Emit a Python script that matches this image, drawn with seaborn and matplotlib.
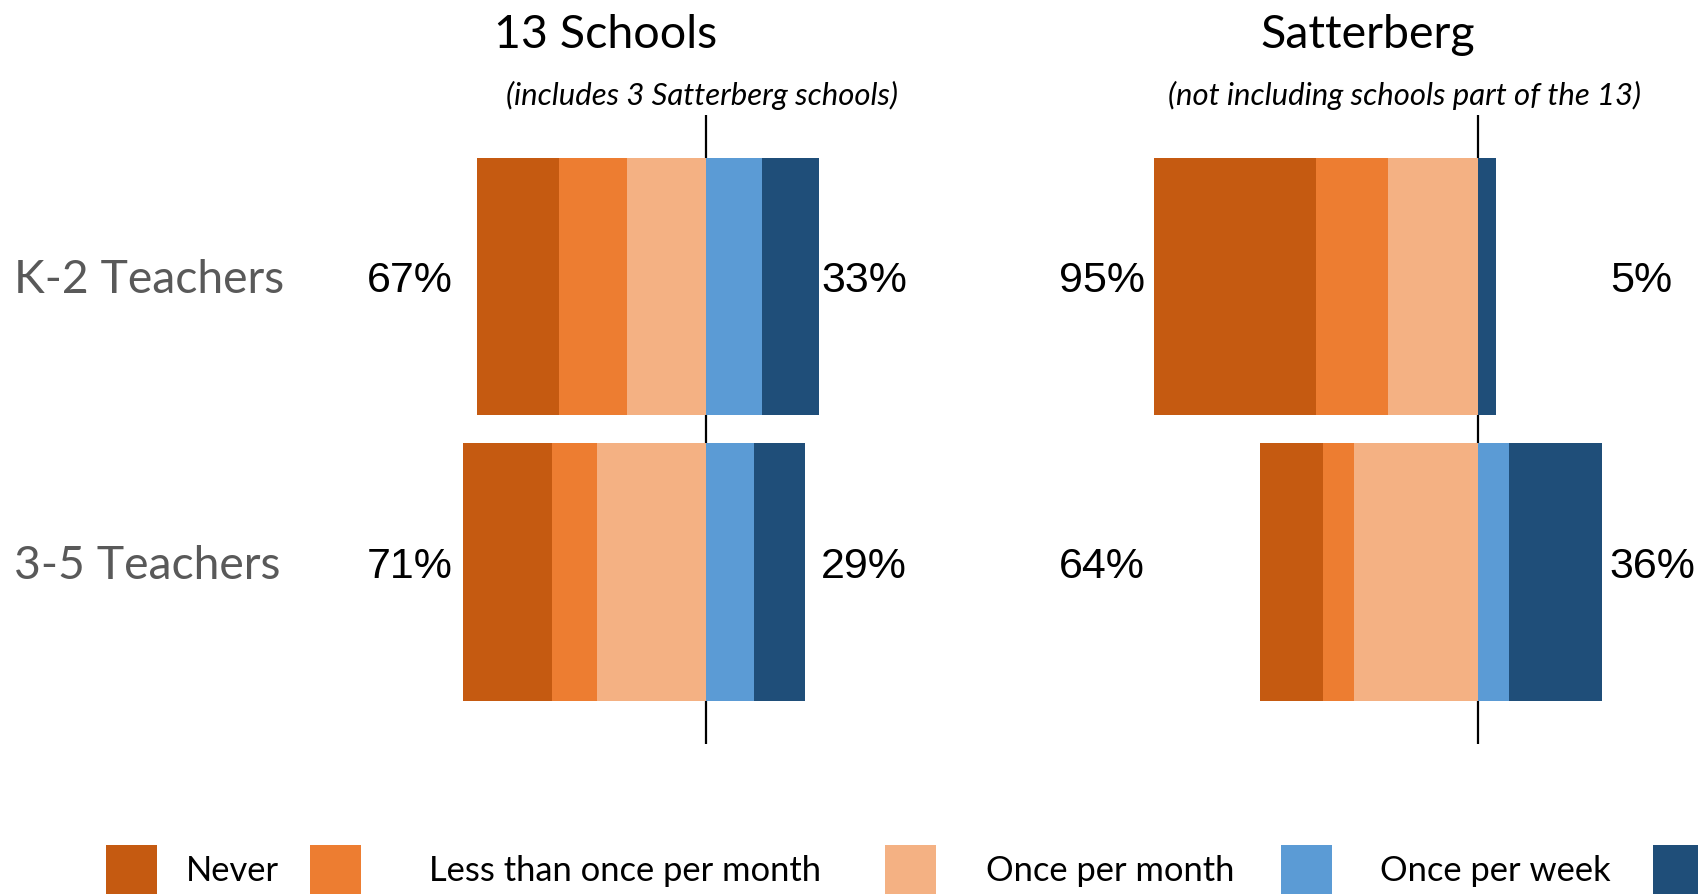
import matplotlib
matplotlib.use("Agg")
import matplotlib.pyplot as plt
from matplotlib.patches import Rectangle
import pandas as pd
import seaborn as sns

# ---------------------------------------------------------------- data
groups = ["K-2 Teachers", "3-5 Teachers"]
categories = ["Never", "Less than once per month", "Once per month",
              "Once per week", "More than once per week"]
negative_cats = categories[:3]
positive_cats = categories[3:]

panel_titles = ["13 Schools", "Satterberg"]
panel_subtitles = ["(includes 3 Satterberg schools)",
                   "(not including schools part of the 13)"]

# percent of teachers per response, one value per group
schools13_never = [24, 26]
schools13_less_monthly = [20, 13]
schools13_monthly = [23, 32]
schools13_weekly = [16.5, 14]
schools13_more_weekly = [16.5, 15]

satterberg_never = [47.5, 18.5]
satterberg_less_monthly = [21, 9]
satterberg_monthly = [26.5, 36.5]
satterberg_weekly = [0, 9]
satterberg_more_weekly = [5, 27]

# ---------------------------------------------------------------- style
palette = ["#C55A11", "#ED7D31", "#F4B183", "#5B9BD5", "#1F4E79"]
TEXT_FONT = ["Lato", "DejaVu Sans"]
NUM_FONT = ["Liberation Sans", "DejaVu Sans"]

sns.set_theme(style="white")
plt.rcParams["font.family"] = TEXT_FONT

W, H = 1699, 894
fig = plt.figure(figsize=(W / 100, H / 100), dpi=100)


def make_frame(never, less, monthly, weekly, more):
    return pd.DataFrame({
        "group": groups,
        categories[0]: never,
        categories[1]: less,
        categories[2]: monthly,
        categories[3]: weekly,
        categories[4]: more,
    })


panels = [
    make_frame(schools13_never, schools13_less_monthly, schools13_monthly,
               schools13_weekly, schools13_more_weekly),
    make_frame(satterberg_never, satterberg_less_monthly, satterberg_monthly,
               satterberg_weekly, satterberg_more_weekly),
]

# layout (pixels): zero line x, x-limits, label offsets in percent units
PX_PER_PCT = 3.42
zero_px = [706, 1478.5]
xlims = [(-80, 40), (-100, 45)]
left_label_x = [-74, -97.5]
right_label_x = [33.6, 38.4]
axes_top_px, axes_bottom_px = 114.7, 743.5


def draw_panel(ax, df, left_x, right_x):
    # negative side: outermost cumulative bar first, inner ones on top
    for i in range(len(negative_cats)):
        cum = -df[negative_cats[i:]].sum(axis=1)
        sns.barplot(data=pd.DataFrame({"group": df["group"], "v": cum}),
                    x="v", y="group", orient="h", order=groups,
                    color=palette[i], saturation=1, width=0.9,
                    linewidth=0, errorbar=None, ax=ax)
    # positive side
    for i in range(len(positive_cats) - 1, -1, -1):
        cum = df[positive_cats[:i + 1]].sum(axis=1)
        sns.barplot(data=pd.DataFrame({"group": df["group"], "v": cum}),
                    x="v", y="group", orient="h", order=groups,
                    color=palette[3 + i], saturation=1, width=0.9,
                    linewidth=0, errorbar=None, ax=ax)
    ax.axvline(0, color="black", lw=1.6, zorder=0.5)

    neg_tot = df[negative_cats].sum(axis=1)
    pos_tot = df[positive_cats].sum(axis=1)
    for row, (n, p) in enumerate(zip(neg_tot, pos_tot)):
        ax.text(left_x, row + 0.02, f"{n:.0f}%", ha="right", va="baseline",
                fontsize=31, family=NUM_FONT, color="black", clip_on=False)
        ax.text(right_x, row + 0.02, f"{p:.0f}%", ha="left", va="baseline",
                fontsize=31, family=NUM_FONT, color="black", clip_on=False)


for k, df in enumerate(panels):
    lo, hi = xlims[k]
    left_px = zero_px[k] + lo * PX_PER_PCT
    width_px = (hi - lo) * PX_PER_PCT
    ax = fig.add_axes([left_px / W, 1 - axes_bottom_px / H,
                       width_px / W, (axes_bottom_px - axes_top_px) / H])
    draw_panel(ax, df, left_label_x[k], right_label_x[k])
    ax.set_xlim(lo, hi)
    ax.set_ylim(1.6, -0.6)
    ax.set_axis_off()

# overlay in pixel coordinates for titles, row labels and legend
ov = fig.add_axes([0, 0, 1, 1], zorder=5)
ov.set_xlim(0, W)
ov.set_ylim(H, 0)
ov.set_axis_off()
ov.patch.set_alpha(0)

title_x = [605.5, 1368]
subtitle_x = [702, 1405]
for k in range(2):
    ov.text(title_x[k], 47.5, panel_titles[k], ha="center", va="baseline",
            fontsize=33.5, color="black")
    ov.text(subtitle_x[k], 105, panel_subtitles[k], ha="center",
            va="baseline", fontsize=22.4, style="italic", color="black")

row_baseline = [292.7, 578.7]
for g, yb in zip(groups, row_baseline):
    ov.text(14, yb, g, ha="left", va="baseline", fontsize=33.3,
            color="#595959")

# legend row; the last swatch runs off the right edge and its label
# lies beyond the canvas, so only the visible labels are placed
swatch_x = [106, 310, 885, 1281, 1653]
label_cx = [232, 624.7, 1110, 1495]
for col, sx in zip(palette, swatch_x):
    ov.add_patch(Rectangle((sx, 845), 51.5, 60, facecolor=col,
                           edgecolor="none", clip_on=True))
for cat, cx in zip(categories, label_cx):
    ov.text(cx, 881, cat, ha="center", va="baseline", fontsize=24.8,
            color="black")

fig.savefig("out.png", dpi=100)
